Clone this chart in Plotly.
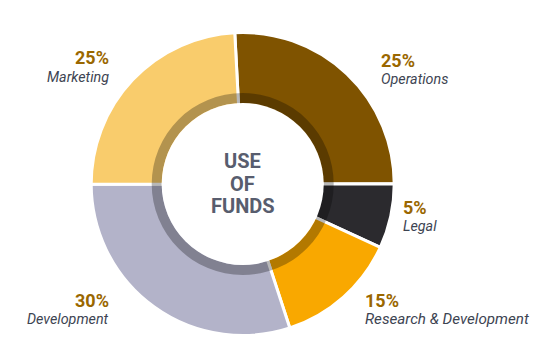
import plotly.graph_objects as go

categories = ["Operations", "Legal", "Research & Development", "Development", "Marketing"]
pct_labels = ["25%", "5%", "15%", "30%", "25%"]
# slice shares as drawn in the picture (angles)
slice_shares = [25.8, 6.9, 13.1, 30.0, 24.2]
colors = ["#7F5300", "#2B2A2E", "#F9A800", "#B3B3C9", "#F9CC6C"]
start_angle = -3

W, H = 548, 357
OFF = 8  # page body margin
cx, cy, R = 242.7 - OFF, 184 - OFF, 151.5
r_band, r_hole = 91, 81

def dom(r):
    return dict(x=[(cx - r) / W, (cx + r) / W], y=[1 - (cy + r) / H, 1 - (cy - r) / H])

fig = go.Figure()
fig.add_trace(go.Pie(
    values=slice_shares, labels=categories, sort=False, direction="clockwise", rotation=start_angle,
    hole=0.0, marker=dict(colors=colors, line=dict(color="white", width=3)),
    textinfo="none", hoverinfo="label", domain=dom(R), showlegend=False,
))
fig.add_trace(go.Pie(
    values=[1], labels=["band"], sort=False, hole=r_hole / r_band,
    marker=dict(colors=["rgba(0,0,0,0.28)"], line=dict(width=0)),
    textinfo="none", hoverinfo="skip", domain=dom(r_band), showlegend=False,
))
fig.add_trace(go.Pie(
    values=[1], labels=["center"], sort=False, hole=0,
    marker=dict(colors=["white"], line=dict(width=0)),
    textinfo="none", hoverinfo="skip", domain=dom(r_hole), showlegend=False,
))

pct_color = "#9A6700"
lab_color = "#3D4452"
label_pos = {
    "Marketing": (111, 58, "right", 14.3),
    "Operations": (379, 60, "left", 14.3),
    "Legal": (401, 207, "left", 14.3),
    "Development": (111, 300, "right", 14.3),
    "Research & Development": (363, 300, "left", 15.2),
}
ann = []
for name, pct in zip(categories, pct_labels):
    x, y, anc, fs = label_pos[name]
    x -= OFF
    y -= OFF
    ann.append(dict(text=f"<b>{pct}</b>", x=x / W, y=1 - y / H, xref="paper", yref="paper",
                    xanchor=anc, yanchor="middle", showarrow=False,
                    font=dict(family="Roboto", size=18, color=pct_color)))
    ann.append(dict(text=f"<i>{name}</i>", x=x / W, y=1 - (y + 19) / H, xref="paper", yref="paper",
                    xanchor=anc, yanchor="middle", showarrow=False,
                    font=dict(family="Roboto", size=fs, color=lab_color)))
for word, y in zip(["USE", "OF", "FUNDS"], [161, 184, 206]):
    ann.append(dict(text=f"<b>{word}</b>", x=cx / W, y=1 - (y - OFF) / H, xref="paper", yref="paper",
                    xanchor="center", yanchor="middle", showarrow=False,
                    font=dict(family="Roboto", size=20, color="#585D6E")))

fig.update_layout(width=W, height=H, margin=dict(l=0, r=0, t=0, b=0),
                  paper_bgcolor="white", plot_bgcolor="white", annotations=ann)
fig.write_html("out.html")
